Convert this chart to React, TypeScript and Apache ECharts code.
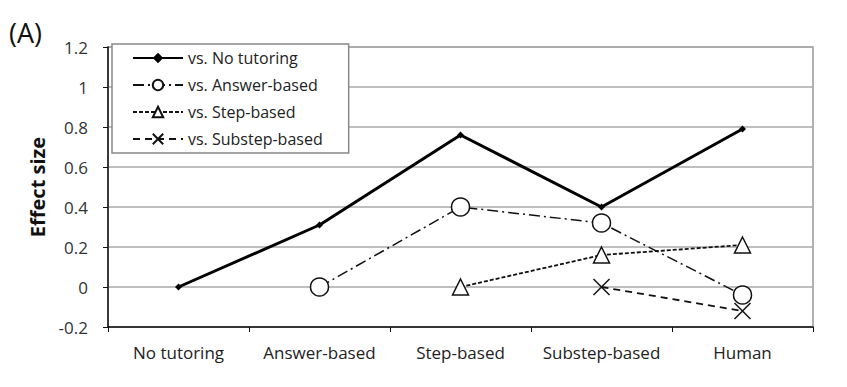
import React, { useEffect, useRef } from "react";
import * as echarts from "echarts";

const categories = ["No tutoring", "Answer-based", "Step-based", "Substep-based", "Human"];
const seriesNames = ["vs. No tutoring", "vs. Answer-based", "vs. Step-based", "vs. Substep-based"];
const vsNoTutoring = [0, 0.31, 0.76, 0.4, 0.79];
const vsAnswerBased = [null, 0, 0.4, 0.32, -0.04];
const vsStepBased = [null, null, 0, 0.16, 0.21];
const vsSubstepBased = [null, null, null, 0, -0.12];

const FONT = "'Open Sans', 'Liberation Sans', sans-serif";

export default function App() {
  const ref = useRef<HTMLDivElement>(null);
  useEffect(() => {
    if (!ref.current) return;
    const chart = echarts.init(ref.current, null, { renderer: "svg" });
    const xSym = "path://M0,0L10,10M10,0L0,10";
    chart.setOption({
      animation: false,
      backgroundColor: "#fff",
      textStyle: { fontFamily: FONT },
      grid: {
        left: 108,
        right: 34,
        top: 47,
        bottom: 60,
        show: true,
        borderColor: "#999",
        borderWidth: 1.5,
      },
      graphic: [
        {
          type: "text",
          left: 9,
          top: 19,
          style: { text: "(A)", fontSize: 27, fontFamily: FONT, fill: "#111" },
        },
      ],
      legend: {
        left: 112,
        top: 44,
        orient: "vertical",
        backgroundColor: "#fff",
        borderColor: "#888",
        borderWidth: 1.5,
        borderRadius: 0,
        padding: [6, 26, 6, 20],
        itemWidth: 50,
        itemHeight: 13,
        itemGap: 11,
        textStyle: { fontSize: 16, color: "#222", fontFamily: FONT },
        data: seriesNames,
      },
      xAxis: {
        type: "category",
        data: categories,
        boundaryGap: true,
        axisLine: { onZero: false, lineStyle: { color: "#111", width: 1.5 } },
        axisTick: { show: true, length: 5, lineStyle: { color: "#111", width: 1 } },
        axisLabel: {
          interval: 0,
          hideOverlap: false,
          fontSize: 17,
          color: "#222",
          margin: 17,
          fontFamily: FONT,
        },
        splitLine: { show: false },
      },
      yAxis: {
        type: "value",
        min: -0.2,
        max: 1.2,
        interval: 0.2,
        name: "Effect size",
        nameLocation: "middle",
        nameGap: 60,
        nameTextStyle: { fontSize: 20, fontWeight: "bold", color: "#111", fontFamily: FONT },
        axisLine: { show: true, lineStyle: { color: "#111", width: 1.5 } },
        axisTick: { show: true, length: 5, lineStyle: { color: "#111", width: 1 } },
        axisLabel: {
          fontSize: 17,
          color: "#333",
          margin: 20,
          fontFamily: FONT,
          formatter: (v: number) => String(Math.round(v * 10) / 10),
        },
        splitLine: { show: true, lineStyle: { color: "#a8a8a8", width: 1.5 } },
      },
      series: [
        {
          name: seriesNames[0],
          type: "line",
          data: vsNoTutoring,
          symbol: "diamond",
          symbolSize: 7,
          lineStyle: { color: "#000", width: 3, type: "solid" },
          itemStyle: { color: "#000" },
          z: 5,
        },
        {
          name: seriesNames[1],
          type: "line",
          data: vsAnswerBased,
          symbol: "circle",
          symbolSize: 18,
          lineStyle: { color: "#111", width: 1.5, type: [11, 4, 2, 4] },
          itemStyle: { color: "#fff", borderColor: "#111", borderWidth: 1.5 },
          z: 4,
        },
        {
          name: seriesNames[2],
          type: "line",
          data: vsStepBased,
          symbol: "triangle",
          symbolSize: 16,
          lineStyle: { color: "#111", width: 1.8, type: [4, 2] },
          itemStyle: { color: "#fff", borderColor: "#111", borderWidth: 1.5 },
          z: 3,
        },
        {
          name: seriesNames[3],
          type: "line",
          data: vsSubstepBased,
          symbol: xSym,
          symbolSize: 16,
          lineStyle: { color: "#111", width: 1.8, type: [7, 5] },
          itemStyle: { color: "none", borderColor: "#111", borderWidth: 1.5 },
          z: 2,
        },
      ],
    });
    return () => chart.dispose();
  }, []);
  return (
    <div
      ref={ref}
      style={{ position: "fixed", left: 0, top: 0, width: 847, height: 387 }}
    />
  );
}
